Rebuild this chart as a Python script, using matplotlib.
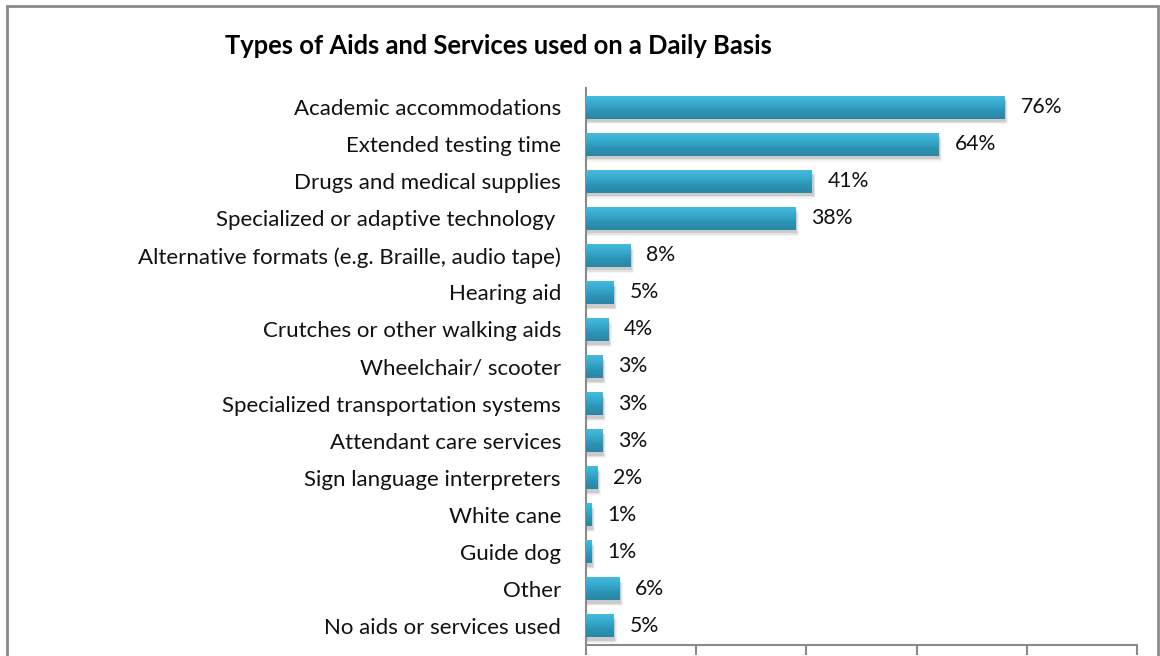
import numpy as np
import matplotlib
matplotlib.use("Agg")
import matplotlib.pyplot as plt
from matplotlib.patches import Rectangle
from matplotlib.colors import LinearSegmentedColormap

plt.rcParams['font.family'] = ['Lato', 'DejaVu Sans']

title = "Types of Aids and Services used on a Daily Basis"
categories = [
    "Academic accommodations",
    "Extended testing time",
    "Drugs and medical supplies",
    "Specialized or adaptive technology ",
    "Alternative formats (e.g. Braille, audio tape)",
    "Hearing aid",
    "Crutches or other walking aids",
    "Wheelchair/ scooter",
    "Specialized transportation systems",
    "Attendant care services",
    "Sign language interpreters",
    "White cane",
    "Guide dog",
    "Other",
    "No aids or services used",
]
values = [76, 64, 41, 38, 8, 5, 4, 3, 3, 3, 2, 1, 1, 6, 5]
x_ticks = [0, 20, 40, 60, 80, 100]

W, H = 1160, 656
fig = plt.figure(figsize=(W / 100, H / 100), dpi=100)
fig.patch.set_facecolor("white")

# outer chart frame (bottom edge runs past the figure)
fig.patches.append(Rectangle((7 / W, -0.05), (1158 - 7) / W, 1 - 6 / H + 0.05,
                             transform=fig.transFigure, fill=False,
                             edgecolor="#8a8a8a", linewidth=2.0, zorder=0))

ax = fig.add_axes([586 / W, 11.5 / H, (1137 - 586) / W, (644.5 - 88.5) / H])
n = len(categories)
ypos = np.arange(n)
bar_h = 0.62

ax.set_xlim(0, 100)
ax.set_ylim(n - 0.5, -0.5)

grad = LinearSegmentedColormap.from_list(
    "bar", ["#45bbdc", "#36aacd", "#2c93b4", "#2a86a4"])
gimg = np.linspace(0, 1, 64).reshape(-1, 1)

for y, v in zip(ypos, values):
    # soft drop shadow
    for k, a in enumerate([0.10, 0.07, 0.04]):
        off = 0.6 + k * 0.35
        sh = Rectangle((0, y - bar_h / 2 + 0.10 + k * 0.03), v + off * 0.5,
                       bar_h, facecolor="#000000", alpha=a, linewidth=0,
                       zorder=1)
        ax.add_patch(sh)
    bar = ax.barh(y, v, height=bar_h, color="#36aacd", linewidth=0,
                  zorder=2)[0]
    im = ax.imshow(gimg, cmap=grad, aspect="auto",
                   extent=(0, v, y + bar_h / 2, y - bar_h / 2),
                   zorder=3, interpolation="bilinear")
    im.set_clip_path(bar)
    ax.text(v + 2.9, y, f"{v}%", va="center", ha="left", fontsize=15.3,
            color="#111111")

ax.set_yticks(ypos)
ax.set_yticklabels(categories, fontsize=16, color="#111111")
ax.tick_params(axis="y", length=0, pad=18)
ax.set_xticks(x_ticks)
ax.set_xticklabels([])
ax.tick_params(axis="x", direction="out", length=7, width=1.5,
               color="#8a8a8a")

for s in ["top", "right"]:
    ax.spines[s].set_visible(False)
for s in ["left", "bottom"]:
    ax.spines[s].set_color("#8a8a8a")
    ax.spines[s].set_linewidth(1.5)

fig.text(225 / W, 1 - 46 / H, title, fontsize=18.4, fontweight="bold",
         ha="left", va="center", color="#000000")

fig.savefig("out.png", dpi=100)
